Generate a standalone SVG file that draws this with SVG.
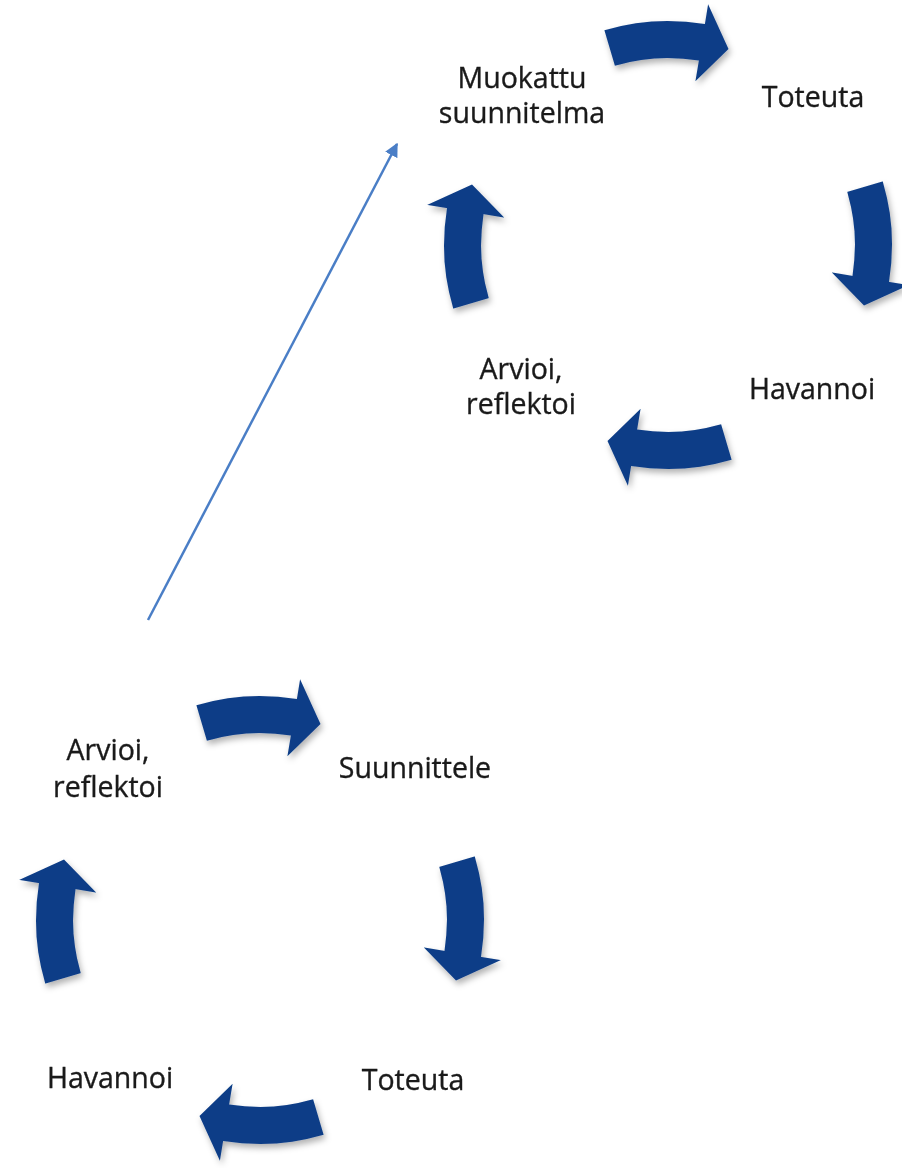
<svg xmlns="http://www.w3.org/2000/svg" xmlns:xlink="http://www.w3.org/1999/xlink" width="902" height="1168" viewBox="0 0 902 1168">
<style>
.lbl{font-family:"Open Sans","Liberation Sans",sans-serif;font-size:28.5px;fill:#1a1a1a;stroke:#1a1a1a;stroke-width:0.35;text-anchor:middle}
.blk{fill:#0E3E87;filter:url(#sh)}
.ln{stroke:#4A7EC6;stroke-width:2.5;fill:none}
</style>
<defs>
<filter id="sh" x="-30%" y="-30%" width="160%" height="160%">
<feDropShadow dx="2" dy="4" stdDeviation="3" flood-color="#000" flood-opacity="0.3"/>
</filter>
<path id="ca" d="M -63.6,-214.8 A 224 224 0 0 1 36.9,-220.9 L 40.1,-240.7 L 60.5,-196 L 27.4,-163.7 L 30.9,-184.4 A 187 187 0 0 0 -53.1,-179.3 Z"/>
<marker id="ah" viewBox="0 0 10 10" refX="9" refY="5" markerWidth="5.5" markerHeight="5.5" orient="auto" markerUnits="strokeWidth">
<path d="M0,0 L10,5 L0,10 Z" fill="#4A7EC6"/>
</marker>
</defs>
<rect width="902" height="1168" fill="#fff"/>
<g id="connectors">
<g class="blk">
<use xlink:href="#ca" transform="translate(668,245)"/>
<use xlink:href="#ca" transform="translate(668,245) rotate(90)"/>
<use xlink:href="#ca" transform="translate(668,245) rotate(180)"/>
<use xlink:href="#ca" transform="translate(668,245) rotate(270)"/>
<use xlink:href="#ca" transform="translate(260,920)"/>
<use xlink:href="#ca" transform="translate(260,920) rotate(90)"/>
<use xlink:href="#ca" transform="translate(260,920) rotate(180)"/>
<use xlink:href="#ca" transform="translate(260,920) rotate(270)"/>
</g>
<line class="ln" x1="148" y1="620" x2="397" y2="144" marker-end="url(#ah)"/>
</g>
<g id="n-muokattu"><text class="lbl" x="522" y="88">Muokattu</text><text class="lbl" x="522" y="123">suunnitelma</text></g>
<g id="n-toteuta-top"><text class="lbl" x="813" y="107">Toteuta</text></g>
<g id="n-havannoi-top"><text class="lbl" x="812" y="399">Havannoi</text></g>
<g id="n-arvioi-top"><text class="lbl" x="521" y="379">Arvioi,</text><text class="lbl" x="521" y="414">reflektoi</text></g>
<g id="n-arvioi-bottom"><text class="lbl" x="108" y="760">Arvioi,</text><text class="lbl" x="108" y="797">reflektoi</text></g>
<g id="n-suunnittele"><text class="lbl" x="415" y="778">Suunnittele</text></g>
<g id="n-toteuta-bottom"><text class="lbl" x="413" y="1090">Toteuta</text></g>
<g id="n-havannoi-bottom"><text class="lbl" x="110" y="1088">Havannoi</text></g>
</svg>
